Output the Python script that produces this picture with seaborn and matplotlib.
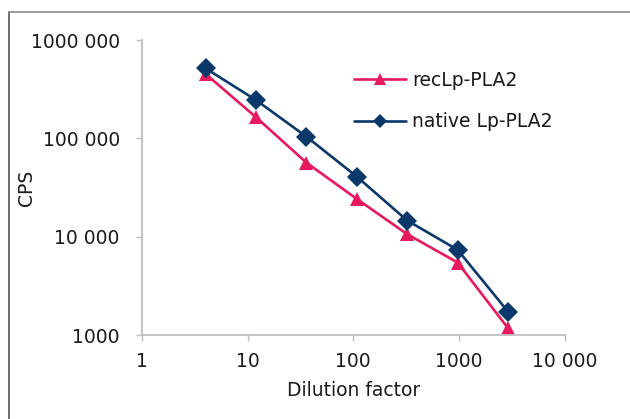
import numpy as np
import pandas as pd
import matplotlib
matplotlib.use("Agg")
import matplotlib.pyplot as plt
from matplotlib.lines import Line2D
import seaborn as sns

# dilution series (4, then 3-fold steps)
dilution = [4, 12, 36, 108, 324, 972, 2916]
rec_cps = [452000, 164000, 56600, 24200, 10600, 5460, 1175]
native_cps = [515000, 245000, 104000, 40800, 14600, 7350, 1730]
series_names = ["recLp-PLA2", "native Lp-PLA2"]

x_ticks = [1, 10, 100, 1000, 10000]
x_tick_labels = ["1", "10", "100", "1000", "10 000"]
y_ticks = [1000, 10000, 100000, 1000000]
y_tick_labels = ["1000", "10 000", "100 000", "1000 000"]

df = pd.concat(
    [
        pd.DataFrame({"dilution": dilution, "cps": rec_cps, "series": series_names[0]}),
        pd.DataFrame({"dilution": dilution, "cps": native_cps, "series": series_names[1]}),
    ],
    ignore_index=True,
)

sns.set_theme(style="white")
plt.rcParams["font.family"] = ["DejaVu Sans"]

pink = "#e8195c"
navy = "#0b386b"
grey = "#bfbfbf"
txt = "#1a1a1a"
fs = 13.5

fig = plt.figure(figsize=(6.3, 4.19), dpi=100)
ax = fig.add_axes([142 / 630, 84 / 419, 422.5 / 630, 295 / 419])

sns.lineplot(
    data=df,
    x="dilution",
    y="cps",
    hue="series",
    style="series",
    hue_order=series_names,
    style_order=series_names,
    palette={series_names[0]: pink, series_names[1]: navy},
    markers={series_names[0]: "^", series_names[1]: "D"},
    dashes=False,
    markersize=10,
    markeredgewidth=0,
    linewidth=1.9,
    ax=ax,
    legend=False,
)

ax.set_xscale("log")
ax.set_yscale("log")
ax.set_xlim(1, 10000)
ax.set_ylim(1000, 1000000)
ax.set_xticks(x_ticks, x_tick_labels)
ax.set_yticks(y_ticks, y_tick_labels)
ax.minorticks_off()
ax.tick_params(axis="both", which="major", direction="out", length=4, width=1,
               color=grey, labelsize=fs, labelcolor=txt, bottom=True, left=True)
ax.tick_params(axis="x", pad=8)
ax.tick_params(axis="y", pad=12)

sns.despine(ax=ax)
for side in ["left", "bottom"]:
    ax.spines[side].set_color(grey)
    ax.spines[side].set_linewidth(1.3)

ax.set_xlabel("Dilution factor", fontsize=fs, color=txt)
ax.set_ylabel("CPS", fontsize=fs, color=txt)
ax.xaxis.set_label_coords(0.5, -0.155)
ax.yaxis.set_label_coords(-0.251, 0.5)

handles = [
    Line2D([], [], color=pink, marker="^", markersize=8, markeredgewidth=0, linewidth=1.9),
    Line2D([], [], color=navy, marker="D", markersize=7.5, markeredgewidth=0, linewidth=1.9),
]
ax.legend(handles, series_names, loc="upper left", bbox_to_anchor=(0.502, 0.896),
          frameon=False, fontsize=fs, labelcolor=txt, borderpad=0, borderaxespad=0,
          handlelength=2.77, handletextpad=0.32, labelspacing=1.2)

# outer chart border (top and left edges visible)
fig.add_artist(Line2D([9 / 630, 9 / 630], [0, 1 - 12 / 419], transform=fig.transFigure,
                      color="#555555", linewidth=1.2))
fig.add_artist(Line2D([9 / 630, 1], [1 - 12 / 419, 1 - 12 / 419], transform=fig.transFigure,
                      color="#888888", linewidth=1.2))

fig.savefig("out.png", dpi=100)
